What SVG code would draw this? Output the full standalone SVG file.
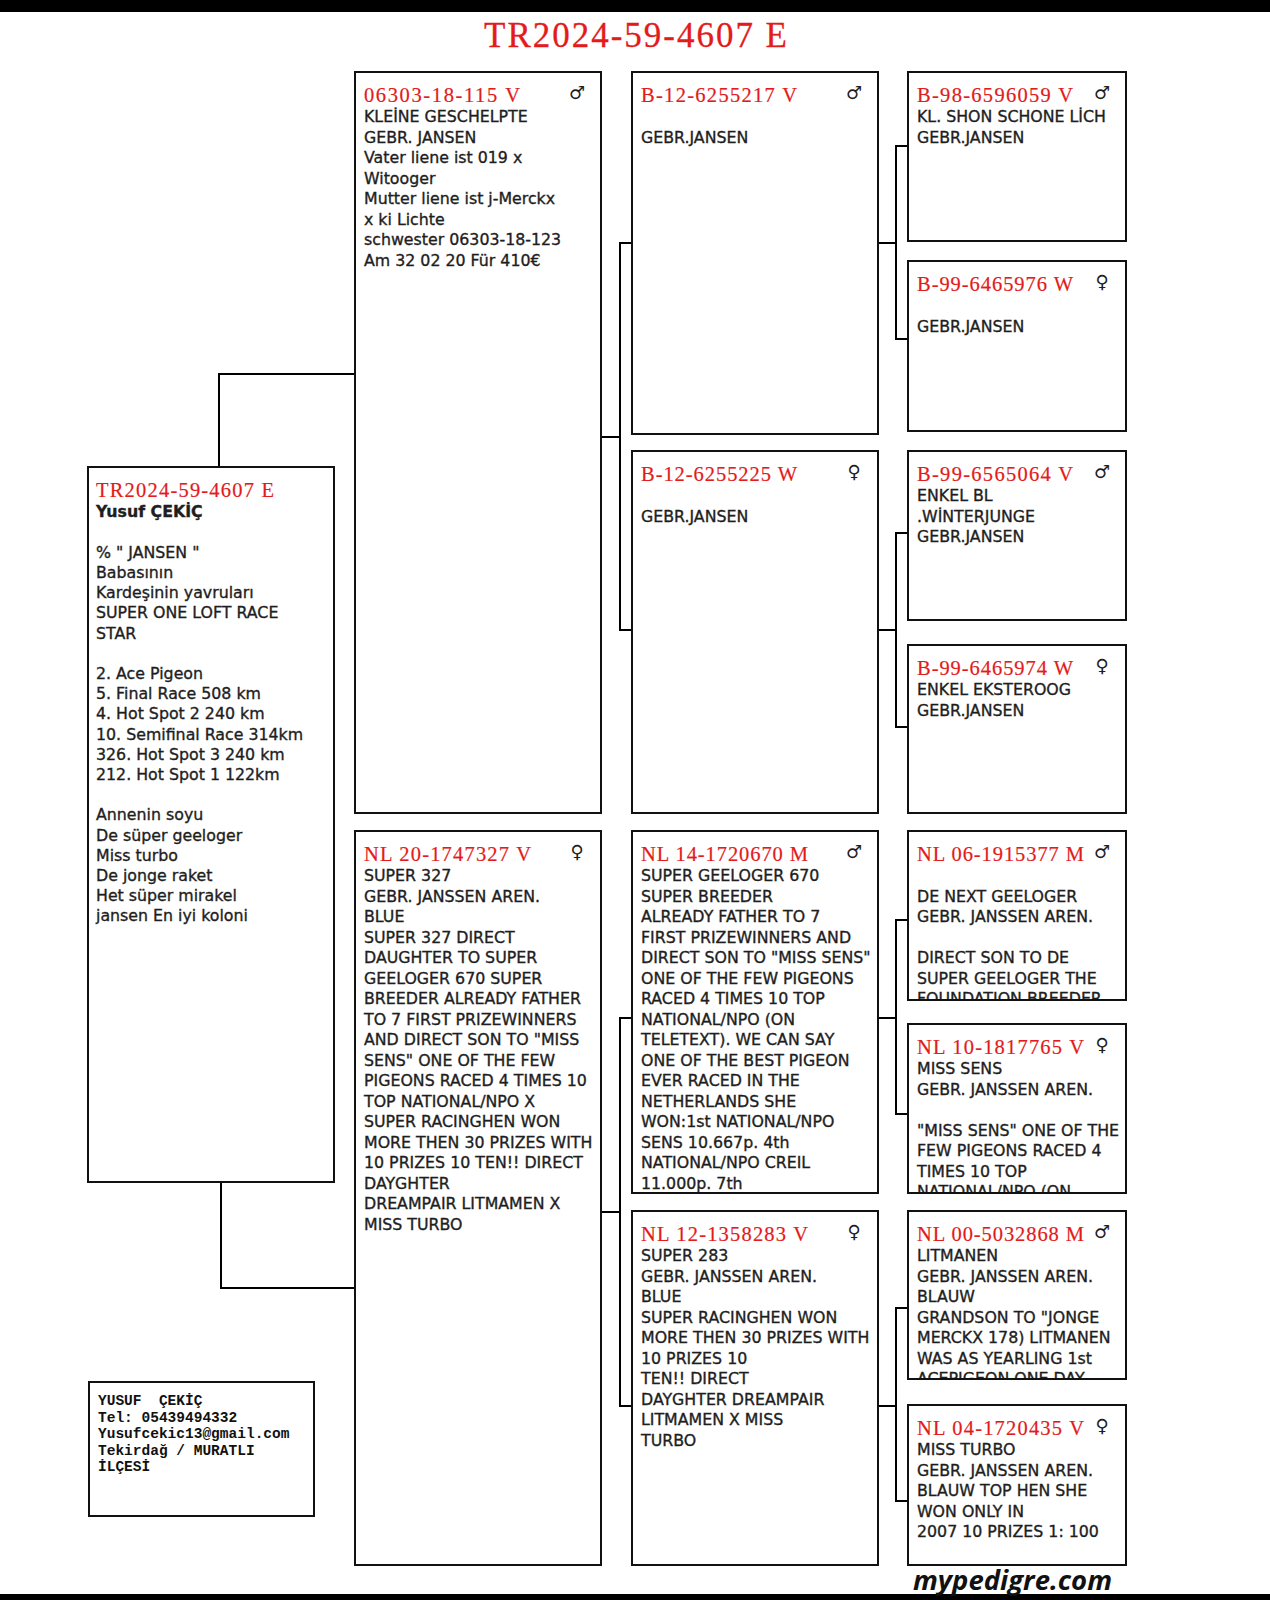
<svg xmlns="http://www.w3.org/2000/svg" width="1270" height="1600" viewBox="0 0 1270 1600">
<style>
.bg{fill:#fff}
.bar{fill:#000}
.box{fill:#fff;stroke:#111;stroke-width:2}
.conn{fill:none;stroke:#000;stroke-width:2}
.id{font-family:"Liberation Serif",serif;font-size:20.5px;fill:#e31b1b;stroke:#e31b1b;stroke-width:0.2}
.title{font-family:"Liberation Serif",serif;font-size:35px;fill:#e31b1b;stroke:#e31b1b;stroke-width:0.3}
.body{font-family:"DejaVu Sans",sans-serif;font-size:15.8px;fill:#1e1e1e;stroke:#1e1e1e;stroke-width:0.35}
.bold{font-weight:bold}
.sex{font-family:"DejaVu Sans",sans-serif;font-size:18px;fill:#1e1e1e;text-anchor:middle}
.contact{font-family:"Liberation Mono",monospace;font-size:14.5px;font-weight:bold;fill:#111;white-space:pre}
.brand{font-family:"Open Sans",sans-serif;font-size:26px;font-weight:bold;font-style:italic;fill:#111}
</style>
<defs>
<clipPath id="c5"><rect x="909" y="832" width="216" height="167"/></clipPath>
<clipPath id="c6"><rect x="909" y="1025" width="216" height="167"/></clipPath>
<clipPath id="c7"><rect x="909" y="1212" width="216" height="166"/></clipPath>
</defs>
<rect class="bg" x="0" y="0" width="1270" height="1600"/>
<rect class="bar" x="0" y="0" width="1270" height="12"/>
<rect class="bar" x="0" y="1594" width="1270" height="6"/>
<text class="title" x="484" y="47" textLength="303" lengthAdjust="spacing">TR2024-59-4607 E</text>

<g id="connectors">
<path class="conn" d="M219,467 V374 H355"/>
<path class="conn" d="M221,1182 V1288 H355"/>
<path class="conn" d="M601,437 H620 M632,243 H620 V630 H632"/>
<path class="conn" d="M601,1212 H620 M632,1018 H620 V1406 H632"/>
<path class="conn" d="M878,243 H896 M908,146 H896 V339 H908"/>
<path class="conn" d="M878,630 H896 M908,533 H896 V727 H908"/>
<path class="conn" d="M878,1018 H896 M908,920 H896 V1114 H908"/>
<path class="conn" d="M878,1406 H896 M908,1308 H896 V1501 H908"/>
</g>

<g id="subject">
<rect class="box" x="88" y="467" width="246" height="715"/>
<text class="id" x="96" y="496.7" textLength="178" lengthAdjust="spacing">TR2024-59-4607 E</text>
<text class="body bold" x="96" y="517.3">Yusuf ÇEKİÇ</text>
<text class="body">
<tspan x="96" y="557.7">% " JANSEN "</tspan>
<tspan x="96" y="577.9">Babasının</tspan>
<tspan x="96" y="598.1">Kardeşinin yavruları</tspan>
<tspan x="96" y="618.3">SUPER ONE LOFT RACE</tspan>
<tspan x="96" y="638.5">STAR</tspan>
<tspan x="96" y="678.9">2. Ace Pigeon</tspan>
<tspan x="96" y="699.1">5. Final Race 508 km</tspan>
<tspan x="96" y="719.3">4. Hot Spot 2 240 km</tspan>
<tspan x="96" y="739.5">10. Semifinal Race 314km</tspan>
<tspan x="96" y="759.7">326. Hot Spot 3 240 km</tspan>
<tspan x="96" y="779.9">212. Hot Spot 1 122km</tspan>
<tspan x="96" y="820.3">Annenin soyu</tspan>
<tspan x="96" y="840.5">De süper geeloger</tspan>
<tspan x="96" y="860.7">Miss turbo</tspan>
<tspan x="96" y="880.9">De jonge raket</tspan>
<tspan x="96" y="901.1">Het süper mirakel</tspan>
<tspan x="96" y="921.3">jansen En iyi koloni</tspan>
</text>
</g>

<g id="contact">
<rect class="box" x="89" y="1382" width="225" height="134"/>
<text class="contact">
<tspan x="98" y="1405">YUSUF  ÇEKİÇ</tspan>
<tspan x="98" y="1421.5">Tel: 05439494332</tspan>
<tspan x="98" y="1438">Yusufcekic13@gmail.com</tspan>
<tspan x="98" y="1454.5">Tekirdağ / MURATLI</tspan>
<tspan x="98" y="1471">İLÇESİ</tspan>
</text>
</g>

<g id="sire">
<rect class="box" x="355" y="72" width="246" height="741"/>
<text class="id" x="364" y="101.7" textLength="156" lengthAdjust="spacing">06303-18-115 V</text>
<text class="sex" x="577" y="99">♂</text>
<text class="body">
<tspan x="364" y="122.3">KLEİNE GESCHELPTE</tspan>
<tspan x="364" y="142.8">GEBR. JANSEN</tspan>
<tspan x="364" y="163.3">Vater liene ist 019 x</tspan>
<tspan x="364" y="183.8">Witooger</tspan>
<tspan x="364" y="204.3">Mutter liene ist j-Merckx</tspan>
<tspan x="364" y="224.8">x ki Lichte</tspan>
<tspan x="364" y="245.3">schwester 06303-18-123</tspan>
<tspan x="364" y="265.8">Am 32 02 20 Für 410€</tspan>
</text>
</g>

<g id="dam">
<rect class="box" x="355" y="831" width="246" height="734"/>
<text class="id" x="364" y="860.7" textLength="167" lengthAdjust="spacing">NL 20-1747327 V</text>
<text class="sex" x="577" y="858">♀</text>
<text class="body">
<tspan x="364" y="881.3">SUPER 327</tspan>
<tspan x="364" y="901.8">GEBR. JANSSEN AREN.</tspan>
<tspan x="364" y="922.3">BLUE</tspan>
<tspan x="364" y="942.8">SUPER 327 DIRECT</tspan>
<tspan x="364" y="963.3">DAUGHTER TO SUPER</tspan>
<tspan x="364" y="983.8">GEELOGER 670 SUPER</tspan>
<tspan x="364" y="1004.3">BREEDER ALREADY FATHER</tspan>
<tspan x="364" y="1024.8">TO 7 FIRST PRIZEWINNERS</tspan>
<tspan x="364" y="1045.3">AND DIRECT SON TO "MISS</tspan>
<tspan x="364" y="1065.8">SENS" ONE OF THE FEW</tspan>
<tspan x="364" y="1086.3">PIGEONS RACED 4 TIMES 10</tspan>
<tspan x="364" y="1106.8">TOP NATIONAL/NPO X</tspan>
<tspan x="364" y="1127.3">SUPER RACINGHEN WON</tspan>
<tspan x="364" y="1147.8">MORE THEN 30 PRIZES WITH</tspan>
<tspan x="364" y="1168.3">10 PRIZES 10 TEN!! DIRECT</tspan>
<tspan x="364" y="1188.8">DAYGHTER</tspan>
<tspan x="364" y="1209.3">DREAMPAIR LITMAMEN X</tspan>
<tspan x="364" y="1229.8">MISS TURBO</tspan>
</text>
</g>

<g id="ss">
<rect class="box" x="632" y="72" width="246" height="362"/>
<text class="id" x="641" y="101.7" textLength="156" lengthAdjust="spacing">B-12-6255217 V</text>
<text class="sex" x="854" y="99">♂</text>
<text class="body" x="641" y="142.8">GEBR.JANSEN</text>
</g>

<g id="sd">
<rect class="box" x="632" y="451" width="246" height="362"/>
<text class="id" x="641" y="480.7" textLength="156" lengthAdjust="spacing">B-12-6255225 W</text>
<text class="sex" x="854" y="478">♀</text>
<text class="body" x="641" y="521.8">GEBR.JANSEN</text>
</g>

<g id="ds">
<rect class="box" x="632" y="831" width="246" height="362"/>
<text class="id" x="641" y="860.7" textLength="167" lengthAdjust="spacing">NL 14-1720670 M</text>
<text class="sex" x="854" y="858">♂</text>
<text class="body">
<tspan x="641" y="881.3">SUPER GEELOGER 670</tspan>
<tspan x="641" y="901.8">SUPER BREEDER</tspan>
<tspan x="641" y="922.3">ALREADY FATHER TO 7</tspan>
<tspan x="641" y="942.8">FIRST PRIZEWINNERS AND</tspan>
<tspan x="641" y="963.3">DIRECT SON TO "MISS SENS"</tspan>
<tspan x="641" y="983.8">ONE OF THE FEW PIGEONS</tspan>
<tspan x="641" y="1004.3">RACED 4 TIMES 10 TOP</tspan>
<tspan x="641" y="1024.8">NATIONAL/NPO (ON</tspan>
<tspan x="641" y="1045.3">TELETEXT). WE CAN SAY</tspan>
<tspan x="641" y="1065.8">ONE OF THE BEST PIGEON</tspan>
<tspan x="641" y="1086.3">EVER RACED IN THE</tspan>
<tspan x="641" y="1106.8">NETHERLANDS SHE</tspan>
<tspan x="641" y="1127.3">WON:1st NATIONAL/NPO</tspan>
<tspan x="641" y="1147.8">SENS 10.667p. 4th</tspan>
<tspan x="641" y="1168.3">NATIONAL/NPO CREIL</tspan>
<tspan x="641" y="1188.8">11.000p. 7th</tspan>
</text>
</g>

<g id="dd">
<rect class="box" x="632" y="1211" width="246" height="354"/>
<text class="id" x="641" y="1240.7" textLength="167" lengthAdjust="spacing">NL 12-1358283 V</text>
<text class="sex" x="854" y="1238">♀</text>
<text class="body">
<tspan x="641" y="1261.3">SUPER 283</tspan>
<tspan x="641" y="1281.8">GEBR. JANSSEN AREN.</tspan>
<tspan x="641" y="1302.3">BLUE</tspan>
<tspan x="641" y="1322.8">SUPER RACINGHEN WON</tspan>
<tspan x="641" y="1343.3">MORE THEN 30 PRIZES WITH</tspan>
<tspan x="641" y="1363.8">10 PRIZES 10</tspan>
<tspan x="641" y="1384.3">TEN!! DIRECT</tspan>
<tspan x="641" y="1404.8">DAYGHTER DREAMPAIR</tspan>
<tspan x="641" y="1425.3">LITMAMEN X MISS</tspan>
<tspan x="641" y="1445.8">TURBO</tspan>
</text>
</g>

<g id="sss">
<rect class="box" x="908" y="72" width="218" height="169"/>
<text class="id" x="917" y="101.7" textLength="156" lengthAdjust="spacing">B-98-6596059 V</text>
<text class="sex" x="1102" y="99">♂</text>
<text class="body">
<tspan x="917" y="122.3">KL. SHON SCHONE LİCH</tspan>
<tspan x="917" y="142.8">GEBR.JANSEN</tspan>
</text>
</g>

<g id="ssd">
<rect class="box" x="908" y="261" width="218" height="170"/>
<text class="id" x="917" y="290.7" textLength="156" lengthAdjust="spacing">B-99-6465976 W</text>
<text class="sex" x="1102" y="288">♀</text>
<text class="body" x="917" y="331.8">GEBR.JANSEN</text>
</g>

<g id="sds">
<rect class="box" x="908" y="451" width="218" height="169"/>
<text class="id" x="917" y="480.7" textLength="156" lengthAdjust="spacing">B-99-6565064 V</text>
<text class="sex" x="1102" y="478">♂</text>
<text class="body">
<tspan x="917" y="501.3">ENKEL BL</tspan>
<tspan x="917" y="521.8">.WİNTERJUNGE</tspan>
<tspan x="917" y="542.3">GEBR.JANSEN</tspan>
</text>
</g>

<g id="sdd">
<rect class="box" x="908" y="645" width="218" height="168"/>
<text class="id" x="917" y="674.7" textLength="156" lengthAdjust="spacing">B-99-6465974 W</text>
<text class="sex" x="1102" y="672">♀</text>
<text class="body">
<tspan x="917" y="695.3">ENKEL EKSTEROOG</tspan>
<tspan x="917" y="715.8">GEBR.JANSEN</tspan>
</text>
</g>

<g id="dss">
<rect class="box" x="908" y="831" width="218" height="169"/>
<text class="id" x="917" y="860.7" textLength="167" lengthAdjust="spacing">NL 06-1915377 M</text>
<text class="sex" x="1102" y="858">♂</text>
<text class="body" clip-path="url(#c5)">
<tspan x="917" y="901.8">DE NEXT GEELOGER</tspan>
<tspan x="917" y="922.3">GEBR. JANSSEN AREN.</tspan>
<tspan x="917" y="963.3">DIRECT SON TO DE</tspan>
<tspan x="917" y="983.8">SUPER GEELOGER THE</tspan>
<tspan x="917" y="1004.3">FOUNDATION BREEDER</tspan>
</text>
</g>

<g id="dsd">
<rect class="box" x="908" y="1024" width="218" height="169"/>
<text class="id" x="917" y="1053.7" textLength="167" lengthAdjust="spacing">NL 10-1817765 V</text>
<text class="sex" x="1102" y="1051">♀</text>
<text class="body" clip-path="url(#c6)">
<tspan x="917" y="1074.3">MISS SENS</tspan>
<tspan x="917" y="1094.8">GEBR. JANSSEN AREN.</tspan>
<tspan x="917" y="1135.8">"MISS SENS" ONE OF THE</tspan>
<tspan x="917" y="1156.3">FEW PIGEONS RACED 4</tspan>
<tspan x="917" y="1176.8">TIMES 10 TOP</tspan>
<tspan x="917" y="1197.3">NATIONAL/NPO (ON</tspan>
</text>
</g>

<g id="dds">
<rect class="box" x="908" y="1211" width="218" height="168"/>
<text class="id" x="917" y="1240.7" textLength="167" lengthAdjust="spacing">NL 00-5032868 M</text>
<text class="sex" x="1102" y="1238">♂</text>
<text class="body" clip-path="url(#c7)">
<tspan x="917" y="1261.3">LITMANEN</tspan>
<tspan x="917" y="1281.8">GEBR. JANSSEN AREN.</tspan>
<tspan x="917" y="1302.3">BLAUW</tspan>
<tspan x="917" y="1322.8">GRANDSON TO "JONGE</tspan>
<tspan x="917" y="1343.3">MERCKX 178) LITMANEN</tspan>
<tspan x="917" y="1363.8">WAS AS YEARLING 1st</tspan>
<tspan x="917" y="1384.3">ACEPIGEON ONE DAY</tspan>
</text>
</g>

<g id="ddd">
<rect class="box" x="908" y="1405" width="218" height="160"/>
<text class="id" x="917" y="1434.7" textLength="167" lengthAdjust="spacing">NL 04-1720435 V</text>
<text class="sex" x="1102" y="1432">♀</text>
<text class="body">
<tspan x="917" y="1455.3">MISS TURBO</tspan>
<tspan x="917" y="1475.8">GEBR. JANSSEN AREN.</tspan>
<tspan x="917" y="1496.3">BLAUW TOP HEN SHE</tspan>
<tspan x="917" y="1516.8">WON ONLY IN</tspan>
<tspan x="917" y="1537.3">2007 10 PRIZES 1: 100</tspan>
</text>
</g>

<text class="brand" x="913" y="1590" textLength="199" lengthAdjust="spacingAndGlyphs">mypedigre.com</text>
</svg>
